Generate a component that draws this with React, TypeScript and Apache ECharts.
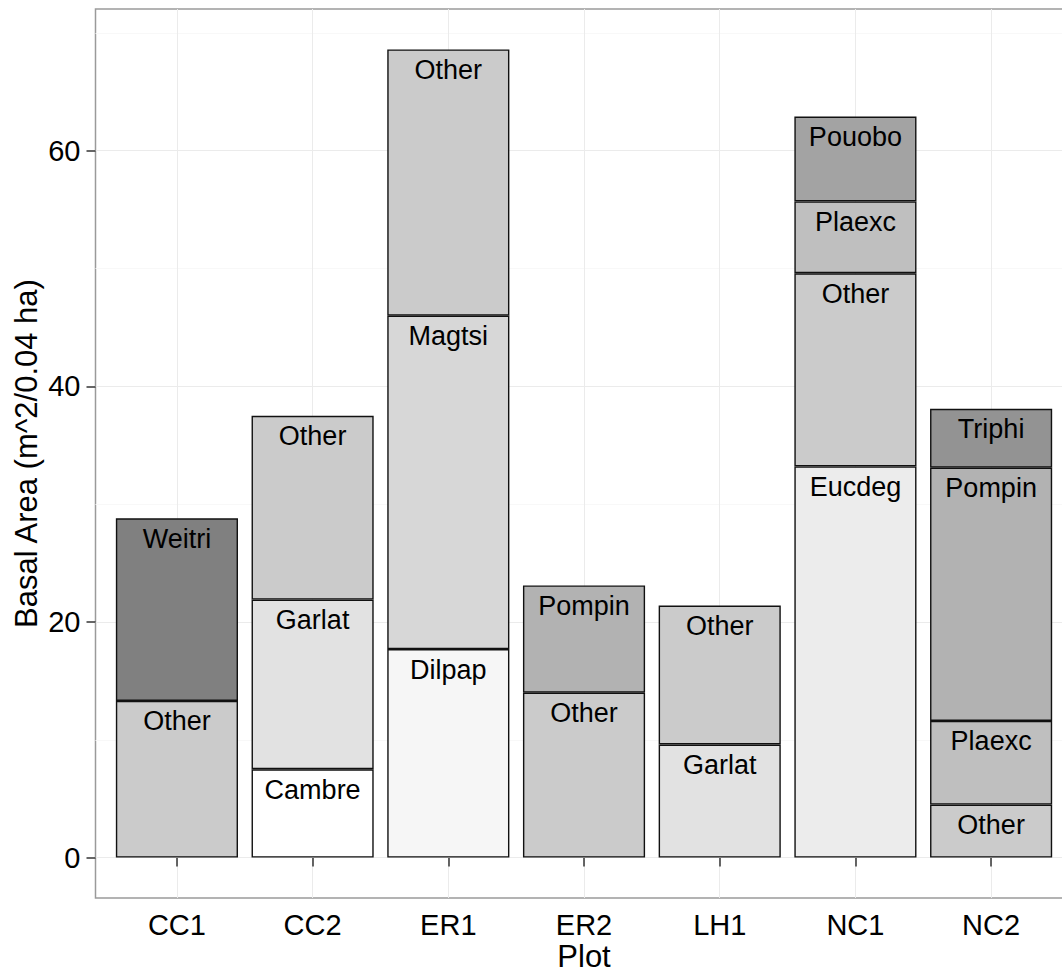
import React, { useEffect, useRef } from "react";
import * as echarts from "echarts";

// ---- data ----
const plots = ["CC1", "CC2", "ER1", "ER2", "LH1", "NC1", "NC2"];
const speciesLevels = ["Cambre", "Dilpap", "Eucdeg", "Garlat", "Magtsi", "Other", "Plaexc", "Pompin", "Pouobo", "Triphi", "Weitri"];
const speciesGreys = ["#ffffff", "#f6f6f6", "#ececec", "#e2e2e2", "#d7d7d7", "#cbcbcb", "#bfbfbf", "#b2b2b2", "#a3a3a3", "#939393", "#808080"];

// stacked segments, bottom to top, one entry per plot
const layer1Species = ["Other", "Cambre", "Dilpap", "Other", "Garlat", "Eucdeg", "Other"];
const layer1Values = [13.3, 7.5, 17.7, 14.0, 9.6, 33.2, 4.5];
const layer2Species = ["Weitri", "Garlat", "Magtsi", "Pompin", "Other", "Other", "Plaexc"];
const layer2Values = [15.5, 14.4, 28.3, 9.1, 11.8, 16.4, 7.1];
const layer3Species = [null, "Other", "Other", null, null, "Plaexc", "Pompin"];
const layer3Values = [null, 15.6, 22.6, null, null, 6.1, 21.5];
const layer4Species = [null, null, null, null, null, "Pouobo", "Triphi"];
const layer4Values = [null, null, null, null, null, 7.2, 5.0];

const yMajorTicks = [0, 20, 40, 60];
const yMinorTicks = [10, 30, 50, 70];

const FONT = "'Liberation Sans', Arial, sans-serif";

export default function App() {
  const ref = useRef<HTMLDivElement>(null);
  useEffect(() => {
    const chart = echarts.init(ref.current!, null, { renderer: "svg" });

    const layers = [
      [layer1Species, layer1Values],
      [layer2Species, layer2Values],
      [layer3Species, layer3Values],
      [layer4Species, layer4Values],
    ] as const;

    const totals = plots.map((_, i) =>
      layers.reduce((s, [, vals]) => s + ((vals as any)[i] ?? 0), 0)
    );
    const yTop = Math.max(...totals);
    const yMin = -0.05 * yTop;
    const yMax = 1.05 * yTop;

    const gridLeft = 95.5;
    const gridTop = 9;
    const gridHeight = 889;
    const xMin = 0.4;
    const xMax = plots.length + 0.6;
    const bandPx = 135.7;
    const gridWidth = bandPx * (xMax - xMin);

    const series = layers.map(([spec, vals], li) => ({
      type: "bar",
      name: "layer" + (li + 1),
      stack: "total",
      barCategoryGap: "10%",
      xAxisIndex: 1,
      yAxisIndex: 2,
      data: plots.map((p, i) => {
        const v = (vals as any)[i];
        const s = (spec as any)[i];
        if (v == null) return { value: "-", name: "" };
        return {
          value: v,
          name: s,
          itemStyle: { color: speciesGreys[speciesLevels.indexOf(s)] },
        };
      }),
      itemStyle: { borderColor: "#111", borderWidth: 1.4 },
      label: {
        show: true,
        position: "insideTop",
        distance: 7,
        formatter: (p: any) => p.data.name,
        fontSize: 27,
        fontFamily: FONT,
        color: "#000",
      },
      emphasis: { disabled: true },
    }));

    const option: any = {
      animation: false,
      backgroundColor: "#ffffff",
      grid: [
        {
          left: gridLeft,
          top: gridTop,
          width: gridWidth,
          height: gridHeight,
          show: true,
          backgroundColor: "#ffffff",
          borderColor: "#9a9a9a",
          borderWidth: 1.5,
          containLabel: false,
          outerBoundsMode: "none",
        },
        {
          left: gridLeft + bandPx * (1 - 0.5 - xMin),
          top: gridTop,
          width: bandPx * plots.length,
          height: gridHeight,
          show: false,
          containLabel: false,
          outerBoundsMode: "none",
        },
      ],
      xAxis: [
        {
          type: "value",
          gridIndex: 0,
          min: xMin,
          max: xMax,
          name: "Plot",
          nameLocation: "middle",
          nameGap: 43,
          nameMoveOverlap: false,
          nameTextStyle: { fontSize: 31, fontFamily: FONT, color: "#000" },
          axisLine: { show: false },
          axisTick: { show: true, length: 9, lineStyle: { color: "#333", width: 1.5 }, customValues: plots.map((_, i) => i + 1) },
          axisLabel: {
            show: true,
            customValues: plots.map((_, i) => i + 1),
            formatter: (v: number) => plots[Math.round(v) - 1] ?? "",
            fontSize: 29,
            fontFamily: FONT,
            color: "#000",
            margin: 12,
          },
          splitLine: { show: true, lineStyle: { color: "#ebebeb", width: 1 } },
        },
        {
          type: "category",
          gridIndex: 1,
          data: plots,
          show: false,
        },
      ],
      yAxis: [
        {
          type: "value",
          gridIndex: 0,
          min: yMin,
          max: yMax,
          name: "Basal Area (m^2/0.04 ha)",
          nameLocation: "middle",
          nameGap: 54,
          nameRotate: 90,
          nameMoveOverlap: false,
          nameTextStyle: { fontSize: 31, fontFamily: FONT, color: "#000" },
          axisLine: { show: false },
          axisTick: { show: true, length: 9, lineStyle: { color: "#333", width: 1.5 }, customValues: yMajorTicks },
          axisLabel: {
            show: true,
            customValues: yMajorTicks,
            fontSize: 29,
            fontFamily: FONT,
            color: "#000",
            margin: 15,
          },
          splitLine: { show: true, lineStyle: { color: "#ebebeb", width: 1 } },
          z: 1,
        },
        {
          type: "value",
          gridIndex: 0,
          min: yMin,
          max: yMax,
          position: "left",
          axisLine: { show: false },
          axisTick: { show: false, customValues: yMinorTicks },
          axisLabel: { show: false, customValues: yMinorTicks },
          splitLine: { show: true, lineStyle: { color: "#f8f8f8", width: 1 } },
          z: 0,
        },
        {
          type: "value",
          gridIndex: 1,
          min: yMin,
          max: yMax,
          show: false,
        },
      ],
      series,
    };

    chart.setOption(option);
    return () => chart.dispose();
  }, []);

  return (
    <div
      ref={ref}
      style={{ position: "fixed", left: 0, top: 0, width: 1062, height: 972, background: "#fff" }}
    />
  );
}
